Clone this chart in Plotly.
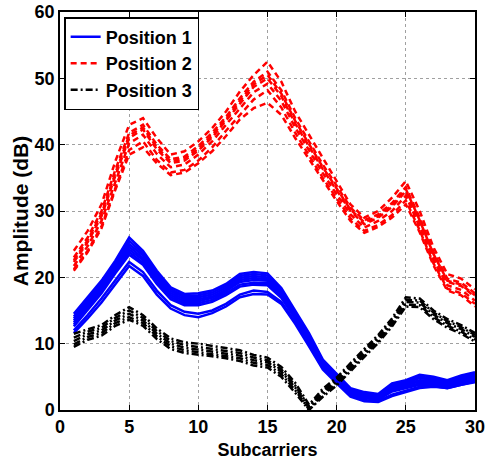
import plotly.graph_objects as go

subcarriers = list(range(1, 31))

# Position 1 (blue, solid) - several measurements
pos1_runs = [
    [14.5,17,19.5,22.5,26,24,21,18.5,17.5,17.6,18,19,20.5,20.8,20.6,18.4,15,11.6,7.6,5.5,3.3,2.7,2.4,4,4.5,5.3,5,4.5,5.2,5.7],
    [14.1,16.6,19.1,22.1,25.5,23.6,20.6,18.2,17.2,17.3,17.7,18.7,20.2,20.5,20.3,18.1,14.8,11.3,7.4,5.3,3.1,2.5,2.2,3.8,4.3,5,4.8,4.3,5,5.5],
    [13.8,16.3,18.8,21.8,25,23.3,20.3,17.9,17,17,17.4,18.4,19.9,20.2,20,17.9,14.6,11.1,7.2,5.1,3,2.4,2.1,3.6,4.1,4.8,4.6,4.1,4.8,5.3],
    [13.5,16,18.5,21.5,24.6,22.9,20,17.6,16.7,16.7,17.1,18.1,19.6,19.9,19.7,17.6,14.4,10.9,7,4.9,2.8,2.2,1.9,3.4,3.9,4.5,4.4,3.9,4.6,5.1],
    [13.2,15.7,18.2,21.2,24.2,22.6,19.7,17.3,16.4,16.4,16.9,17.9,19.3,19.6,19.5,17.4,14.2,10.7,6.9,4.8,2.7,2.1,1.8,3.2,3.7,4.3,4.2,3.8,4.4,4.9],
    [12.9,15.4,17.9,20.9,23.8,22.2,19.3,17,16.1,16.1,16.6,17.6,18.9,19.2,19.1,17.1,14,10.5,6.7,4.6,2.5,1.9,1.6,3,3.5,4,4,3.6,4.2,4.7],
    [12.6,15.1,17.6,20.6,23.4,21.9,19,16.7,15.8,15.8,16.3,17.3,18.6,18.9,18.8,16.9,13.8,10.3,6.6,4.5,2.4,1.8,1.5,2.8,3.3,3.8,3.8,3.5,4,4.5],
    [12,14.3,16.8,19.6,22.3,20.8,18,15.8,14.8,14.5,15,16,17.4,18,17.8,16.3,13.3,9.9,6.3,4.2,2.2,1.5,1.3,2.3,2.9,3.5,3.6,3.3,3.8,4.3],
    [11.6,13.8,16.2,19,21.7,20.2,17.4,15.3,14.3,14,14.6,15.6,17,17.5,17.4,16,13,9.6,6.1,4,2,1.3,1.2,2.1,2.7,3.3,3.5,3.3,3.8,4.2],
]

# Position 2 (red, dashed)
pos2_runs = [
    [24,27,31,37.5,43,44,41,38.5,39,40.5,42.5,45,48,50.5,52.5,49.5,45,41.5,38,34.7,31,29,30,32,34.5,30,24.5,20.5,19.8,18.2],
    [23,26,30,36.2,41.8,43,40,37.8,38.2,39.8,41.8,44.2,47,49.5,51,48.2,44,40.5,37,33.8,30.5,28.6,29.5,31.2,33.6,29,23.8,19.8,19.2,17.6],
    [22.6,25.6,29.6,35.7,41.4,42.6,39.6,37.5,37.9,39.4,41.4,43.9,46.6,49.1,50.5,47.7,43.6,40.1,36.6,33.4,30.2,28.3,29.2,30.9,33.3,28.6,23.5,19.5,18.9,17.3],
    [22.3,25.3,29.2,35.3,41,42.3,39.3,37.2,37.6,39.1,41.1,43.6,46.2,48.7,50,47.3,43.2,39.7,36.3,33.1,30,28,29,30.6,33,28.3,23.2,19.3,18.7,17.1],
    [21.7,24.7,28.5,34.5,40.2,41.5,38.6,36.6,37,38.5,40.5,43,45.5,47.9,49.2,46.6,42.6,39.1,35.7,32.5,29.5,27.5,28.5,30,32.3,27.6,22.6,18.8,18.1,16.5],
    [21.2,24,27.7,33.6,39.2,40.5,37.7,35.8,36.2,37.6,39.6,42.1,44.5,46.8,48.2,45.6,41.8,38.3,35,31.9,28.9,27,27.9,29.4,31.6,27.1,22.1,18.3,17.6,16],
    [21,23.8,27.4,33.2,38.5,39.6,37.2,35.4,35.8,37.2,39,41.3,43.8,45.5,46.3,44.5,41,37.8,34.5,31.5,28.5,26.7,27.6,29,31,26.8,21.8,18,17.3,15.6],
]

# Position 3 (black, dash-dot)
pos3_runs = [
    [11.5,12.2,12.8,14.3,15.5,14.3,12.3,10.8,10.2,10,9.7,9.4,9,8.3,7.9,6.5,4.1,0.8,3.2,4.9,7.1,9.2,11.3,13.8,17,16.8,15,13.7,12.8,11.6],
    [10.9,11.8,12.4,13.9,15,13.9,11.9,10.4,9.8,9.5,9.3,9,8.6,7.9,7.5,6.1,3.7,0.5,2.9,4.6,6.8,8.9,11,13.5,16.6,16.5,14.7,13.4,12.5,11.3],
    [10.4,11.4,12,13.5,14.5,13.5,11.5,10,9.4,9.1,8.9,8.6,8.2,7.5,7.2,5.8,3.4,0.3,2.6,4.3,6.5,8.6,10.7,13.2,16.3,16.2,14.4,13.1,12.2,11],
    [9.9,11,11.6,13.1,14,13.1,11.1,9.6,9,8.7,8.5,8.2,7.8,7.1,6.8,5.4,3,0.1,2.3,4,6.2,8.3,10.4,12.9,15.9,15.8,14,12.7,11.8,10.6],
    [9.5,10.6,11.2,12.7,13.6,12.7,10.7,9.2,8.6,8.4,8.1,7.8,7.4,6.7,6.4,5,2.6,0,2,3.7,5.9,8,10.1,12.6,15.6,15.5,13.7,12.4,11.5,10.3],
]

series_names = ["Position 1", "Position 2", "Position 3"]
x_ticks = [0, 5, 10, 15, 20, 25, 30]
y_ticks = [0, 10, 20, 30, 40, 50, 60]

styles = [
    dict(color="#0000FF", dash="solid", width=2.5),
    dict(color="#FF0000", dash="6px,4px", width=2.5),
    dict(color="#000000", dash="7px,3px,2px,3px", width=2.5),
]

FONT = "Liberation Sans, Arial, Helvetica, sans-serif"

fig = go.Figure()
for name, runs, st in zip(series_names, [pos1_runs, pos2_runs, pos3_runs], styles):
    for i, run in enumerate(runs):
        fig.add_trace(go.Scatter(
            x=subcarriers, y=run, mode="lines", name=name,
            legendgroup=name, showlegend=(i == 0),
            line=dict(color=st["color"], dash=st["dash"], width=st["width"]),
        ))

axis_common = dict(
    showline=True, linecolor="black", linewidth=1.5, mirror="ticks",
    ticks="inside", ticklen=5, tickwidth=1, tickcolor="black",
    showgrid=True, gridcolor="#a0a0a0", griddash="dot", gridwidth=1,
    zeroline=False, automargin=False,
    tickfont=dict(family=FONT, size=18, color="black", weight="bold"),
)

fig.update_layout(
    width=491, height=464,
    margin=dict(l=60, r=16, t=12, b=54),
    paper_bgcolor="white", plot_bgcolor="white",
    xaxis=dict(range=[0, 30], tickvals=x_ticks, ticktext=[str(v) for v in x_ticks],
               title=dict(text="<b>Subcarriers</b>", standoff=7,
                          font=dict(family=FONT, size=18, color="black")),
               **axis_common),
    yaxis=dict(range=[0, 60], tickvals=y_ticks, ticktext=[str(v) for v in y_ticks],
               title=dict(text="<b>Amplitude (dB)</b>", standoff=0,
                          font=dict(family=FONT, size=21, color="black")),
               **axis_common),
    legend=dict(x=0.01, y=0.987, xanchor="left", yanchor="top",
                bgcolor="white", bordercolor="black", borderwidth=1.5,
                font=dict(family=FONT, size=18, color="black", weight="bold"),
                itemwidth=30, tracegroupgap=0),
    showlegend=True,
)

fig.write_html("out.html")
